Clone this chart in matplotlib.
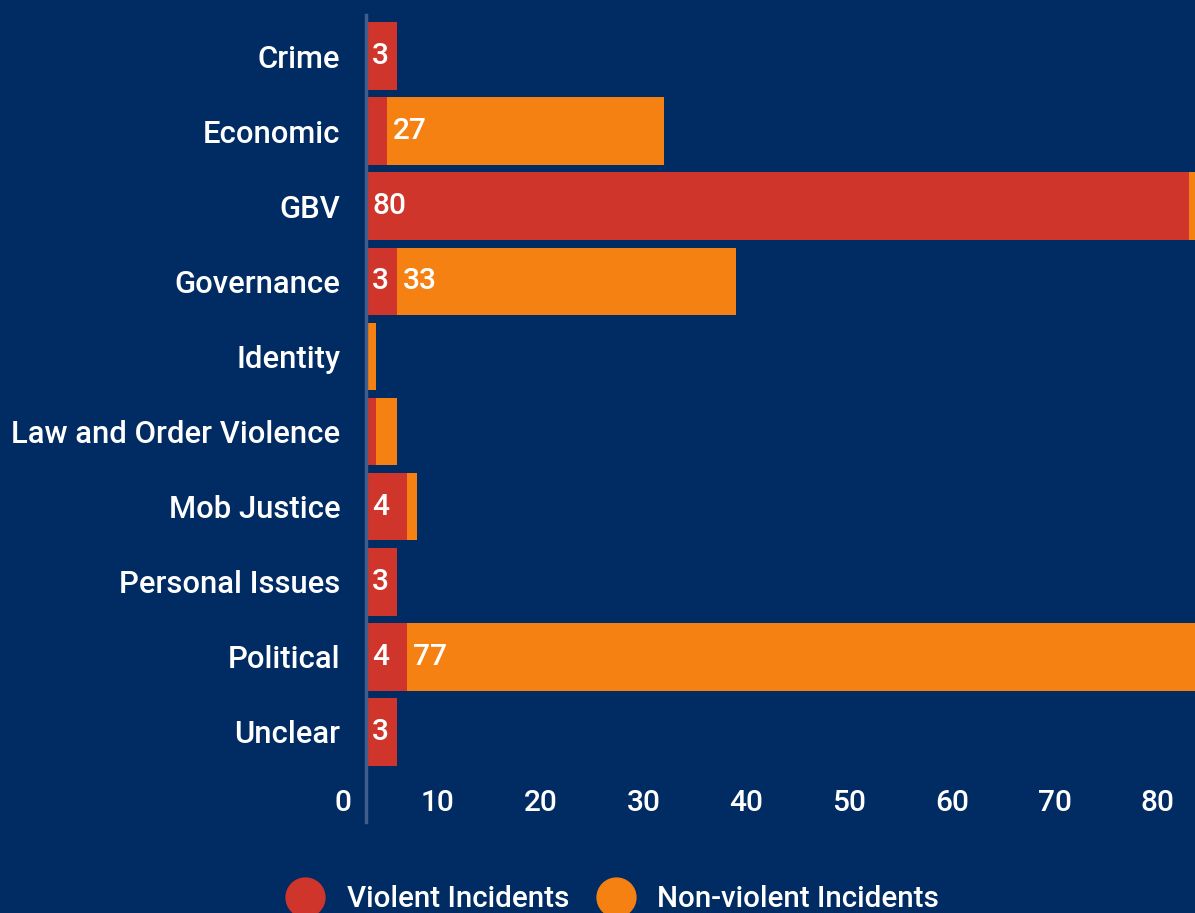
import matplotlib.pyplot as plt
from matplotlib.lines import Line2D
from matplotlib.transforms import ScaledTranslation

categories = ["Crime", "Economic", "GBV", "Governance", "Identity",
              "Law and Order Violence", "Mob Justice", "Personal Issues",
              "Political", "Unclear"]
violent = [3, 2, 80, 3, 0, 1, 4, 3, 4, 3]
non_violent = [0, 27, 1, 33, 1, 2, 1, 0, 77, 0]
xticks = [0, 10, 20, 30, 40, 50, 60, 70, 80]

bg = "#002B63"
red = "#D0352B"
orange = "#F58113"
axis_col = "#3F5E8C"

plt.rcParams['font.family'] = ['Roboto', 'DejaVu Sans']
plt.rcParams['font.weight'] = 500
fs = 21.5

fig = plt.figure(figsize=(11.95, 9.13), dpi=100, facecolor=bg)
ax = fig.add_axes([366 / 1195, 1 - 769.5 / 913, 1 - 366 / 1195, (769.5 - 18.5) / 913])
ax.set_facecolor(bg)

y = list(range(len(categories)))
ax.barh(y, violent, height=0.9, color=red, linewidth=0)
ax.barh(y, non_violent, left=violent, height=0.9, color=orange, linewidth=0)

# value labels inside the segments (small ones are skipped)
pad = ScaledTranslation(6 / 100, 0, fig.dpi_scale_trans)
for i in y:
    if violent[i] >= 3:
        ax.text(0, i, str(violent[i]), color="white", fontsize=fs, va="center",
                ha="left", transform=ax.transData + pad)
    if non_violent[i] >= 3:
        ax.text(violent[i], i, str(non_violent[i]), color="white", fontsize=fs,
                va="center", ha="left", transform=ax.transData + pad)

ax.set_ylim(len(categories) - 0.5, -0.5)
ax.set_xlim(0, 80.6)
ax.set_yticks(y)
ax.set_yticklabels(categories, color="white", fontsize=22.3)
ax.set_xticks(xticks)
ax.set_xticklabels([str(t) for t in xticks], color="white", fontsize=fs)
ax.tick_params(axis="y", length=0, pad=18.5)
ax.tick_params(axis="x", length=0, pad=14)
shift = ScaledTranslation(-14 / 100, 0, fig.dpi_scale_trans)
for lab in ax.get_xticklabels():
    lab.set_ha("right")
    lab.set_transform(lab.get_transform() + shift)

for s in ax.spines.values():
    s.set_visible(False)
ax.axvline(0, ymin=-0.07, ymax=1.005, color=axis_col, lw=2.5, clip_on=False)

handles = [Line2D([], [], marker="o", ls="", color=red, markersize=28),
           Line2D([], [], marker="o", ls="", color=orange, markersize=28)]
leg = fig.legend(handles, ["Violent Incidents", "Non-violent Incidents"],
                 loc="center left", bbox_to_anchor=(286 / 1195, 1 - 899 / 913),
                 ncol=2, frameon=False, fontsize=21.3, handlelength=1.3,
                 handletextpad=0.75, columnspacing=0.93, borderpad=0,
                 borderaxespad=0)
for t in leg.get_texts():
    t.set_color("white")

fig.savefig("out.png", dpi=100, facecolor=bg)
